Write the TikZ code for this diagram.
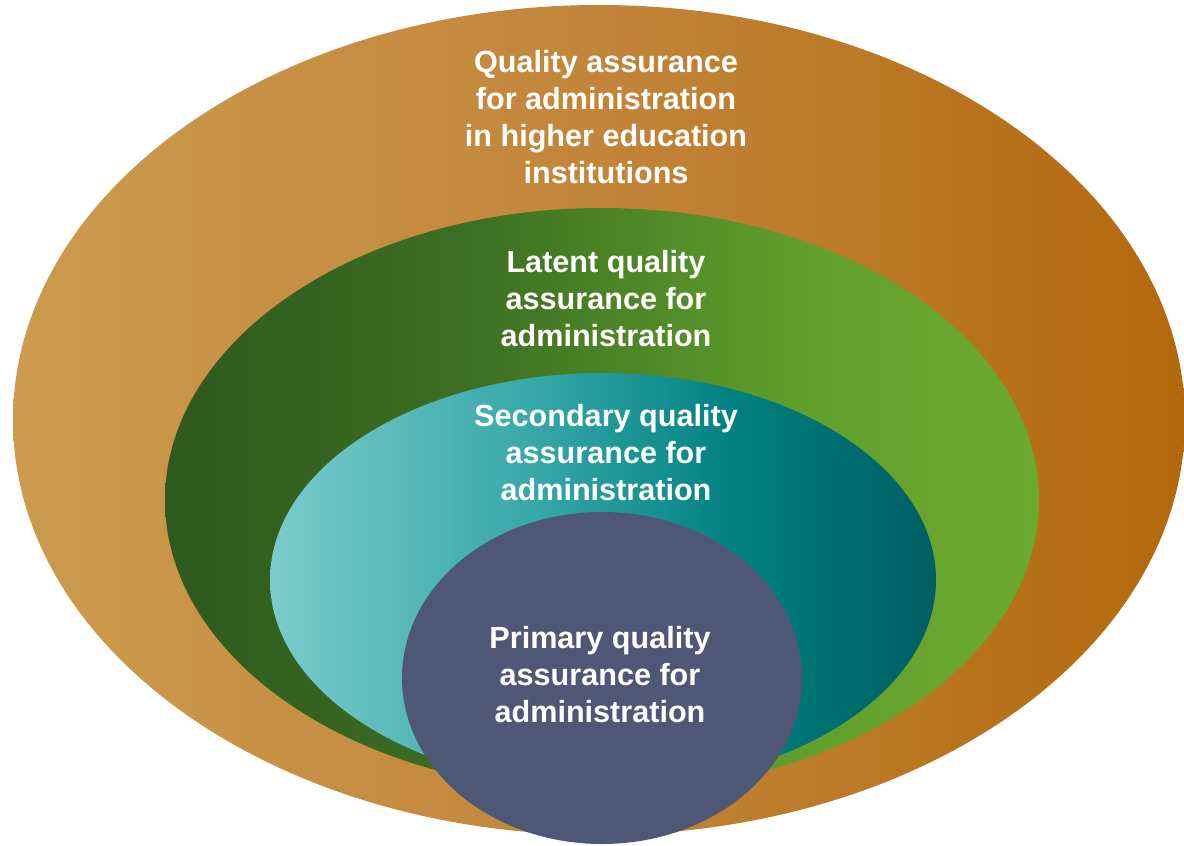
\documentclass[tikz,border=0pt]{standalone}
\usepackage{fontspec}
\setmainfont{Liberation Sans}
\definecolor{outerL}{HTML}{CC9B4E}
\definecolor{outerM}{HTML}{C2853A}
\definecolor{outerR}{HTML}{B3690D}
\definecolor{greenA}{HTML}{2E5A1E}
\definecolor{greenB}{HTML}{3C6E22}
\definecolor{greenC}{HTML}{62A02D}
\definecolor{greenD}{HTML}{6BA92F}
\definecolor{tealA}{HTML}{7BCBCB}
\definecolor{tealB}{HTML}{36A7A8}
\definecolor{tealC}{HTML}{00807F}
\definecolor{tealD}{HTML}{005E63}
\definecolor{navy}{HTML}{4E5876}
\pgfdeclarehorizontalshading{outershade}{100bp}{color(0bp)=(outerL); color(25bp)=(outerL); color(50bp)=(outerM); color(75bp)=(outerR); color(100bp)=(outerR)}
\pgfdeclarehorizontalshading{greenshade}{100bp}{color(0bp)=(greenA); color(25bp)=(greenA); color(42bp)=(greenB); color(62bp)=(greenC); color(75bp)=(greenD); color(100bp)=(greenD)}
\pgfdeclarehorizontalshading{tealshade}{100bp}{color(0bp)=(tealA); color(25bp)=(tealA); color(45bp)=(tealB); color(60bp)=(tealC); color(75bp)=(tealD); color(100bp)=(tealD)}
\tikzset{
  lbl/.style={text=white, font=\fontsize{15.3}{18.5}\selectfont\bfseries, align=center, inner sep=0pt}
}
\begin{document}
\begin{tikzpicture}[x=0.5pt,y=-0.5pt]
\useasboundingbox (0,0) rectangle (1184,846);
\clip (0,0) rectangle (1184,846);
\shade[shading=outershade] (599,420) ellipse [x radius=586, y radius=415];
\shade[shading=greenshade] (602,500) ellipse [x radius=437, y radius=292];
\shade[shading=tealshade] (603,580) ellipse [x radius=333, y radius=207];
\fill[navy] (602,678) ellipse [x radius=200, y radius=166];
\node[lbl] (outer) at (606,117) {Quality assurance\\for administration\\in higher education\\institutions};
\node[lbl] (latent) at (606,299) {Latent quality\\assurance for\\administration};
\node[lbl] (secondary) at (606,453) {Secondary quality\\assurance for\\administration};
\node[lbl] (primary) at (600,675) {Primary quality\\assurance for\\administration};
\end{tikzpicture}
\end{document}
